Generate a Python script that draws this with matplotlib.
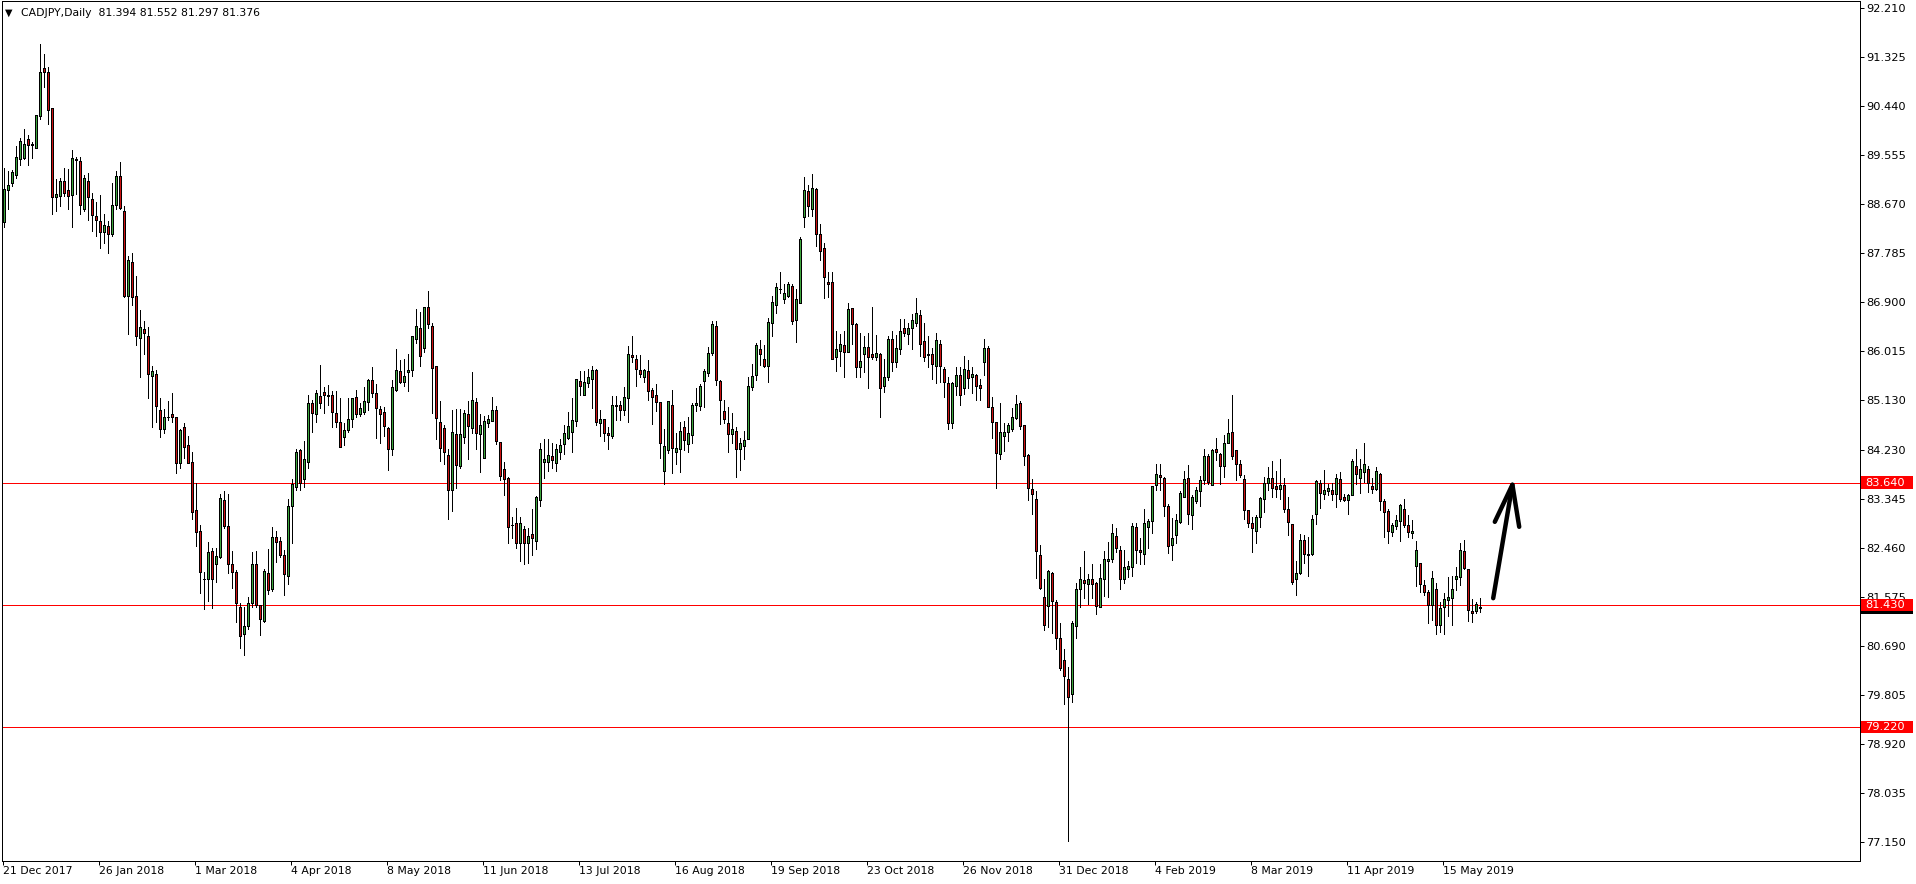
import numpy as np
import matplotlib
matplotlib.use('Agg')
import matplotlib.pyplot as plt
import matplotlib.transforms as mtransforms
from matplotlib.patches import Rectangle

# CADJPY daily candles (bar 0 = 21 Dec 2017)
opens = [
    88.34, 88.93, 89.06, 89.20, 89.49, 89.51, 89.85, 89.74, 89.68, 90.26,
    91.13, 91.05, 90.40, 88.80, 88.82, 89.09, 88.93, 88.84, 89.48, 89.45,
    88.58, 89.09, 88.76, 88.45, 88.37, 88.16, 88.27, 88.14, 88.66, 89.18,
    88.55, 87.01, 87.62, 87.01, 86.26, 86.42, 86.28, 85.56, 85.60, 84.96,
    84.60, 84.82, 84.87, 84.82, 84.00, 84.65, 84.31, 84.02, 83.15, 82.77,
    81.89, 81.89, 82.41, 82.16, 82.30, 83.32, 82.86, 82.16, 82.03, 81.39,
    80.91, 81.04, 81.47, 82.17, 81.43, 81.13, 82.01, 81.71, 82.65, 82.59,
    82.33, 81.96, 83.22, 83.56, 84.22, 83.71, 84.02, 85.07, 84.87, 85.21,
    85.27, 85.21, 85.23, 84.89, 84.73, 84.47, 84.59, 84.79, 85.18, 84.87,
    84.92, 85.10, 85.49, 85.25, 84.97, 84.91, 84.62, 84.24, 85.32, 85.65,
    85.45, 85.63, 85.67, 86.24, 86.44, 86.08, 86.81, 86.46, 85.74, 84.74,
    84.62, 84.13, 83.51, 84.51, 83.94, 84.47, 84.88, 84.63, 85.09, 84.51,
    84.09, 84.71, 84.76, 84.96, 84.37, 83.89, 83.73, 82.87, 82.90, 82.55,
    82.80, 82.54, 82.71, 82.58, 83.33, 84.02, 84.01, 84.12, 84.00, 84.19,
    84.33, 84.45, 84.56, 84.76, 85.47, 85.23, 85.43, 85.52, 85.67, 84.72,
    84.78, 84.53, 84.49, 85.05, 85.05, 84.95, 85.16, 85.94, 85.88, 85.67,
    85.55, 85.65, 85.31, 85.22, 85.09, 83.85, 84.22, 85.05, 84.19, 84.24,
    84.64, 84.33, 84.50, 85.04, 85.03, 85.48, 85.62, 85.99, 86.46, 85.47,
    84.93, 84.71, 84.51, 84.57, 84.24, 84.30, 84.42, 85.37, 85.59, 86.06,
    85.87, 85.75, 86.53, 86.84, 87.14, 86.95, 87.02, 87.20, 86.58, 86.88,
    88.43, 88.90, 88.58, 88.94, 88.13, 87.87, 87.26, 87.26, 85.91, 86.02,
    86.12, 86.00, 86.79, 86.50, 85.72, 85.96, 86.09, 85.97, 85.90, 85.97,
    85.39, 85.55, 86.23, 85.81, 86.06, 86.43, 86.32, 86.43, 86.52, 86.67,
    86.20, 85.97, 85.97, 85.74, 86.15, 85.70, 85.43, 84.72, 85.39, 85.59,
    85.34, 85.67, 85.55, 85.59, 85.41, 85.81, 86.08, 85.00, 84.73, 84.15,
    84.48, 84.55, 84.60, 84.80, 85.07, 84.68, 84.14, 83.52, 83.34, 82.33,
    81.58, 81.41, 82.00, 81.49, 80.83, 80.43, 80.09, 79.81, 81.05, 81.72,
    81.87, 81.80, 81.90, 81.83, 81.39, 81.89, 82.23, 82.26, 82.67, 82.43,
    81.89, 82.08, 82.11, 82.83, 82.43, 82.34, 82.84, 82.94, 83.59, 83.77,
    83.73, 83.22, 82.52, 82.69, 82.93, 83.38, 83.73, 83.06, 83.31, 83.48,
    83.69, 84.12, 83.60, 84.24, 84.15, 83.94, 84.35, 84.56, 84.22, 83.97,
    83.71, 83.15, 82.90, 82.77, 83.01, 83.35, 83.64, 83.73, 83.57, 83.53,
    83.59, 83.17, 82.89, 81.90, 82.01, 82.61, 82.34, 82.34, 83.08, 83.64,
    83.44, 83.49, 83.51, 83.44, 83.71, 83.37, 83.32, 83.42, 83.94, 83.73,
    83.83, 83.88, 83.57, 83.53, 83.80, 83.31, 83.12, 82.74, 82.86, 82.95,
    83.17, 82.87, 82.72, 82.13, 82.19, 81.79, 81.67, 81.43, 81.72, 81.07,
    81.39, 81.51, 81.56, 81.89, 81.93, 82.40, 82.07, 81.31, 81.31, 81.394,
]
highs = [
    89.33, 89.27, 89.28, 89.72, 89.86, 90.03, 89.92, 89.79, 90.28, 91.56,
    91.38, 91.15, 90.40, 89.12, 89.15, 89.33, 89.30, 89.65, 89.53, 89.53,
    89.20, 89.24, 88.88, 88.71, 88.84, 88.49, 88.37, 89.06, 89.27, 89.43,
    88.64, 87.73, 87.79, 87.38, 86.75, 86.56, 86.45, 85.74, 85.67, 85.16,
    84.97, 85.12, 85.26, 84.82, 84.61, 84.72, 84.48, 84.19, 83.63, 82.88,
    82.03, 82.56, 82.45, 82.45, 83.43, 83.48, 83.43, 82.41, 82.06, 81.47,
    81.39, 81.58, 82.39, 82.40, 81.43, 82.07, 82.44, 82.84, 82.76, 82.65,
    82.42, 83.34, 83.70, 84.25, 84.24, 84.39, 85.23, 85.13, 85.31, 85.76,
    85.37, 85.41, 85.29, 85.29, 85.16, 84.71, 85.17, 85.17, 85.31, 85.07,
    85.37, 85.52, 85.73, 85.42, 85.03, 85.01, 84.65, 85.49, 86.05, 85.85,
    85.87, 85.96, 86.28, 86.77, 86.73, 86.82, 87.10, 86.52, 85.74, 85.11,
    84.68, 84.24, 84.95, 84.97, 84.97, 84.95, 85.12, 85.64, 85.17, 84.88,
    84.85, 84.86, 85.19, 85.02, 84.37, 84.01, 83.74, 83.02, 83.18, 83.02,
    82.86, 82.81, 83.16, 83.39, 84.36, 84.42, 84.42, 84.35, 84.33, 84.42,
    84.68, 84.91, 85.17, 85.52, 85.66, 85.66, 85.70, 85.74, 85.70, 84.95,
    84.78, 84.65, 85.20, 85.21, 85.11, 85.37, 86.11, 86.29, 85.94, 85.94,
    85.70, 85.85, 85.34, 85.42, 85.10, 84.60, 85.12, 85.31, 84.54, 84.74,
    84.75, 84.83, 85.07, 85.34, 85.42, 85.70, 86.09, 86.56, 86.56, 85.49,
    85.13, 85.01, 84.90, 84.65, 84.44, 84.57, 85.55, 85.79, 86.17, 86.21,
    86.12, 86.62, 87.01, 87.25, 87.44, 87.23, 87.26, 87.23, 87.14, 88.07,
    89.16, 89.02, 89.22, 88.96, 88.31, 87.96, 87.44, 87.44, 86.37, 86.32,
    86.37, 86.88, 86.80, 86.53, 86.35, 86.29, 86.34, 86.81, 86.31, 85.99,
    85.88, 86.29, 86.38, 86.30, 86.59, 86.59, 86.52, 86.69, 86.98, 86.76,
    86.53, 86.29, 86.08, 86.35, 86.21, 85.73, 85.55, 85.45, 85.72, 85.72,
    85.93, 85.85, 85.72, 85.61, 85.52, 86.23, 86.11, 85.18, 84.73, 85.07,
    84.72, 84.72, 84.99, 85.22, 85.11, 84.68, 84.16, 83.71, 83.49, 82.51,
    81.90, 82.06, 82.02, 81.51, 81.10, 80.63, 80.31, 81.14, 81.82, 82.11,
    82.40, 81.99, 82.16, 81.85, 82.17, 82.40, 82.57, 82.89, 82.81, 82.49,
    82.42, 82.23, 82.90, 82.90, 82.63, 83.17, 82.98, 83.57, 83.98, 83.97,
    83.74, 83.26, 83.00, 83.07, 83.48, 83.85, 83.95, 83.41, 83.56, 83.75,
    84.24, 84.15, 84.25, 84.45, 84.18, 84.50, 84.79, 85.22, 84.22, 84.04,
    83.77, 83.15, 83.02, 83.05, 83.38, 83.74, 83.92, 84.03, 83.85, 84.07,
    83.73, 83.38, 82.89, 82.23, 82.71, 82.70, 82.65, 83.05, 83.69, 83.69,
    83.86, 83.61, 83.63, 83.80, 83.83, 83.43, 83.44, 84.06, 84.24, 84.07,
    84.35, 83.94, 83.73, 83.92, 83.81, 83.34, 83.17, 82.91, 83.05, 83.25,
    83.35, 83.06, 82.96, 82.58, 82.19, 81.87, 81.69, 82.04, 81.82, 81.48,
    81.64, 81.93, 81.96, 82.11, 82.55, 82.61, 82.07, 81.54, 81.48, 81.552,
]
lows = [
    88.25, 88.59, 88.99, 89.15, 89.38, 89.48, 89.38, 89.50, 89.68, 90.21,
    90.79, 90.12, 88.49, 88.54, 88.63, 88.81, 88.59, 88.25, 88.86, 88.50,
    88.54, 88.39, 88.18, 88.10, 87.87, 87.97, 87.78, 88.09, 88.59, 88.58,
    86.99, 86.33, 86.85, 86.13, 85.54, 85.97, 85.16, 84.65, 84.74, 84.47,
    84.54, 84.77, 84.74, 83.81, 83.90, 84.08, 84.00, 82.99, 82.50, 81.65,
    81.36, 81.50, 81.37, 81.85, 82.28, 82.81, 82.01, 81.74, 81.12, 80.65,
    80.52, 81.00, 81.39, 81.39, 80.89, 81.12, 81.63, 81.68, 82.20, 82.30,
    81.61, 81.81, 82.54, 83.51, 83.51, 83.56, 83.91, 84.56, 84.74, 84.99,
    84.89, 85.05, 84.65, 84.65, 84.29, 84.32, 84.55, 84.64, 84.83, 84.85,
    84.88, 84.95, 85.19, 84.44, 84.36, 84.48, 83.86, 84.13, 85.30, 85.44,
    85.38, 85.30, 85.57, 86.17, 85.75, 86.00, 86.44, 84.90, 84.42, 84.03,
    83.97, 82.99, 83.13, 83.54, 83.91, 84.36, 84.06, 84.54, 84.24, 83.83,
    84.09, 84.65, 84.76, 84.33, 83.68, 83.42, 82.54, 82.64, 82.46, 82.23,
    82.16, 82.19, 82.33, 82.44, 83.22, 83.72, 83.85, 83.91, 83.85, 84.06,
    84.15, 84.42, 84.19, 84.66, 85.22, 85.22, 85.36, 84.99, 84.68, 84.48,
    84.39, 84.25, 84.44, 84.77, 84.77, 84.86, 84.73, 85.82, 85.38, 85.55,
    85.46, 85.13, 84.70, 84.94, 84.09, 83.61, 84.18, 83.81, 83.98, 83.83,
    84.22, 84.19, 84.36, 84.93, 84.95, 85.01, 85.56, 85.94, 85.41, 84.69,
    84.71, 84.19, 84.35, 83.74, 83.86, 84.07, 84.42, 85.31, 85.49, 85.76,
    85.73, 85.46, 86.29, 86.71, 87.07, 86.89, 87.00, 86.50, 86.18, 86.88,
    88.25, 88.45, 88.46, 87.92, 87.66, 86.98, 87.00, 85.88, 85.66, 85.75,
    85.55, 86.00, 86.14, 85.55, 85.55, 85.64, 85.35, 85.88, 85.85, 84.83,
    85.27, 85.49, 85.65, 85.72, 85.96, 86.28, 86.14, 86.05, 86.46, 85.93,
    85.84, 85.73, 85.51, 85.43, 85.45, 85.19, 84.60, 84.62, 85.22, 85.04,
    85.24, 85.34, 85.25, 85.14, 85.14, 85.58, 85.01, 84.45, 83.54, 84.07,
    84.21, 84.39, 84.58, 84.79, 84.60, 83.95, 83.32, 83.08, 81.92, 81.72,
    80.98, 81.03, 80.93, 80.64, 80.25, 79.64, 77.17, 79.68, 80.83, 81.39,
    81.55, 81.44, 81.55, 81.27, 81.39, 81.59, 81.58, 82.21, 82.38, 81.72,
    81.83, 81.93, 81.96, 82.19, 82.17, 82.17, 82.46, 82.72, 83.51, 83.51,
    83.04, 82.37, 82.24, 82.54, 82.90, 83.37, 82.89, 82.80, 83.27, 83.22,
    83.62, 83.62, 83.59, 84.04, 83.62, 83.74, 84.35, 84.06, 83.68, 83.74,
    82.98, 82.84, 82.39, 82.54, 82.84, 83.11, 83.50, 83.38, 83.37, 83.35,
    83.11, 82.70, 81.80, 81.61, 81.99, 82.19, 81.96, 82.33, 82.89, 83.18,
    83.34, 83.41, 83.32, 83.20, 83.31, 83.31, 83.08, 83.41, 83.62, 83.46,
    83.65, 83.47, 83.45, 83.50, 83.15, 82.66, 82.55, 82.67, 82.80, 82.58,
    82.83, 82.65, 82.63, 81.77, 81.66, 81.60, 81.10, 81.15, 80.91, 80.94,
    80.91, 81.22, 81.07, 81.69, 81.79, 82.08, 81.14, 81.12, 81.28, 81.297,
]
closes = [
    88.94, 89.01, 89.25, 89.52, 89.81, 89.75, 89.74, 89.75, 90.28, 91.05,
    91.05, 90.37, 88.80, 88.86, 89.09, 88.88, 88.82, 89.50, 89.46, 88.66,
    89.14, 88.80, 88.47, 88.39, 88.16, 88.29, 88.14, 88.65, 89.18, 88.61,
    87.01, 87.67, 86.99, 86.28, 86.45, 86.35, 85.60, 85.65, 85.03, 84.61,
    84.82, 84.83, 84.82, 84.00, 84.59, 84.29, 84.00, 83.10, 82.75, 82.03,
    81.90, 82.39, 81.90, 82.32, 83.36, 82.86, 82.17, 82.03, 81.47, 80.86,
    81.04, 81.47, 82.17, 81.42, 81.18, 82.05, 81.70, 82.65, 82.57, 82.33,
    81.99, 83.22, 83.62, 84.20, 83.64, 84.06, 85.07, 84.89, 85.25, 85.07,
    85.23, 85.23, 84.91, 84.73, 84.29, 84.59, 84.78, 85.17, 84.88, 84.98,
    85.11, 85.49, 85.25, 84.98, 84.87, 84.67, 84.24, 85.36, 85.67, 85.45,
    85.56, 85.68, 86.28, 86.46, 85.93, 86.82, 86.50, 85.71, 84.81, 84.27,
    84.19, 83.51, 84.56, 83.96, 84.51, 84.89, 84.66, 85.13, 84.54, 84.68,
    84.76, 84.78, 84.96, 84.39, 83.75, 83.71, 82.83, 82.87, 82.54, 82.90,
    82.54, 82.68, 82.63, 83.37, 84.24, 84.07, 84.13, 84.04, 84.24, 84.32,
    84.53, 84.67, 84.77, 85.52, 85.39, 85.45, 85.55, 85.68, 84.74, 84.78,
    84.53, 84.50, 85.05, 85.03, 84.95, 85.18, 85.96, 85.91, 85.70, 85.61,
    85.67, 85.30, 85.19, 85.10, 84.36, 84.30, 85.11, 84.26, 84.26, 84.57,
    84.40, 84.54, 85.04, 85.07, 85.38, 85.65, 85.98, 86.50, 85.50, 85.14,
    84.79, 84.51, 84.60, 84.24, 84.35, 84.41, 85.38, 85.56, 86.12, 85.96,
    85.75, 86.55, 86.91, 87.17, 87.14, 87.06, 87.23, 86.56, 86.95, 88.04,
    88.92, 88.63, 88.96, 88.13, 87.83, 87.36, 87.22, 85.88, 86.05, 86.14,
    86.00, 86.77, 86.50, 85.72, 85.84, 86.09, 85.91, 85.90, 85.99, 85.34,
    85.54, 86.23, 85.81, 86.08, 86.37, 86.34, 86.43, 86.57, 86.70, 86.14,
    85.90, 85.94, 85.78, 86.21, 85.75, 85.45, 84.71, 85.43, 85.59, 85.23,
    85.70, 85.53, 85.61, 85.39, 85.35, 86.08, 85.01, 84.73, 84.18, 84.56,
    84.55, 84.68, 84.82, 85.06, 84.67, 84.12, 83.54, 83.44, 82.40, 81.73,
    81.07, 82.04, 81.50, 80.83, 80.28, 80.15, 79.77, 81.10, 81.72, 81.90,
    81.83, 81.90, 81.80, 81.41, 81.92, 82.26, 82.25, 82.73, 82.45, 81.89,
    82.11, 82.13, 82.86, 82.43, 82.39, 82.90, 82.94, 83.57, 83.80, 83.74,
    83.22, 82.49, 82.63, 82.97, 83.46, 83.71, 83.08, 83.37, 83.50, 83.69,
    84.12, 83.65, 84.22, 84.19, 83.94, 84.35, 84.53, 84.12, 83.97, 83.78,
    83.15, 82.91, 82.81, 83.02, 83.36, 83.64, 83.73, 83.54, 83.53, 83.59,
    83.17, 82.92, 81.84, 82.01, 82.61, 82.34, 82.33, 82.99, 83.66, 83.45,
    83.51, 83.55, 83.44, 83.73, 83.35, 83.33, 83.41, 84.03, 83.80, 83.89,
    83.98, 83.63, 83.52, 83.84, 83.31, 83.11, 82.77, 82.88, 82.96, 83.23,
    82.88, 82.75, 82.76, 82.43, 81.81, 81.66, 81.43, 81.92, 81.06, 81.38,
    81.53, 81.58, 81.71, 81.95, 82.42, 82.10, 81.33, 81.29, 81.45, 81.376,
]

date_labels = ['21 Dec 2017', '26 Jan 2018', '1 Mar 2018', '4 Apr 2018', '8 May 2018',
               '11 Jun 2018', '13 Jul 2018', '16 Aug 2018', '19 Sep 2018', '23 Oct 2018',
               '26 Nov 2018', '31 Dec 2018', '4 Feb 2019', '8 Mar 2019', '11 Apr 2019',
               '15 May 2019']
bars_per_label = 24

price_ticks = [92.210, 91.325, 90.440, 89.555, 88.670, 87.785, 86.900, 86.015, 85.130,
               84.230, 83.345, 82.460, 81.575, 80.690, 79.805, 78.920, 78.035, 77.150]
levels = [83.640, 81.430, 79.220]
last_bid = 81.376
title = 'CADJPY,Daily  81.394 81.552 81.297 81.376'

# hand drawn arrow: (bar, price) points
arrow_shaft = ([372.3, 377.1], [81.55, 83.60])
arrow_head = ([372.7, 377.1, 378.8], [82.93, 83.60, 82.84])

bull = '#3ca63c'
bear = '#cc1111'
px = 0.72  # one pixel in points at dpi 100
fs = 8.2

o = np.array(opens)
h = np.array(highs)
l = np.array(lows)
c = np.array(closes)
x = np.arange(len(o))
up = c >= o

fig = plt.figure(figsize=(19.16, 8.84), dpi=100)
ax = fig.add_axes([2 / 1916, 23 / 884, 1858 / 1916, 860 / 884])

# support / resistance lines
for lv in levels:
    ax.axhline(lv, color='#ff0000', linewidth=px, antialiased=False, zorder=2)

# candles
ax.vlines(x, l, h, color='black', linewidth=px, antialiased=False, zorder=3)
ax.bar(x, np.abs(c - o), bottom=np.minimum(o, c), width=0.5,
       color=[bull if u else bear for u in up], edgecolor='black',
       linewidth=px, antialiased=False, zorder=4)

ax.plot(*arrow_shaft, color='black', linewidth=3.2, solid_capstyle='round', zorder=5)
ax.plot(*arrow_head, color='black', linewidth=3.2, solid_capstyle='round',
        solid_joinstyle='round', zorder=5)

ax.set_xlim(-0.5, 464)
ax.set_ylim(76.801, 92.342)

# price axis on the right
ax.yaxis.tick_right()
ax.set_yticks(price_ticks)
ax.set_yticklabels(['%.3f' % p for p in price_ticks])
ax.tick_params(axis='y', direction='out', length=2.9, width=px, pad=1.5,
               labelsize=fs, colors='black')

# date axis
ax.set_xticks([bars_per_label * k - 0.25 for k in range(len(date_labels))])
ax.set_xticklabels(date_labels)
for t in ax.get_xticklabels():
    t.set_horizontalalignment('left')
ax.tick_params(axis='x', direction='out', length=2.9, width=px, pad=1.0,
               labelsize=7.8, colors='black')

for s in ax.spines.values():
    s.set_linewidth(px)
    s.set_color('black')

# price boxes on the axis
trans = mtransforms.blended_transform_factory(ax.transAxes, ax.transData)
bx0 = (1861 - 2) / 1858
bw = 52 / 1858
bh = 12.5 / 55.34
ax.add_patch(Rectangle((bx0, last_bid - bh / 2), bw, bh, transform=trans,
                       facecolor='black', edgecolor='none', clip_on=False, zorder=6))
for lv in levels:
    ax.add_patch(Rectangle((bx0, lv - bh / 2), bw, bh, transform=trans,
                           facecolor='#ff0000', edgecolor='none', clip_on=False, zorder=7))
    ax.text((1865 - 2) / 1858, lv, '%.3f' % lv, transform=trans, color='white',
            fontsize=fs, ha='left', va='center', clip_on=False, zorder=8)

fig.text(5 / 1916, 1 - 12.5 / 884, '\u25bc', fontsize=7, ha='left', va='center')
fig.text(21 / 1916, 1 - 12.5 / 884, title, fontsize=7.8, ha='left', va='center')

fig.savefig('out.png', dpi=100, facecolor='white')
